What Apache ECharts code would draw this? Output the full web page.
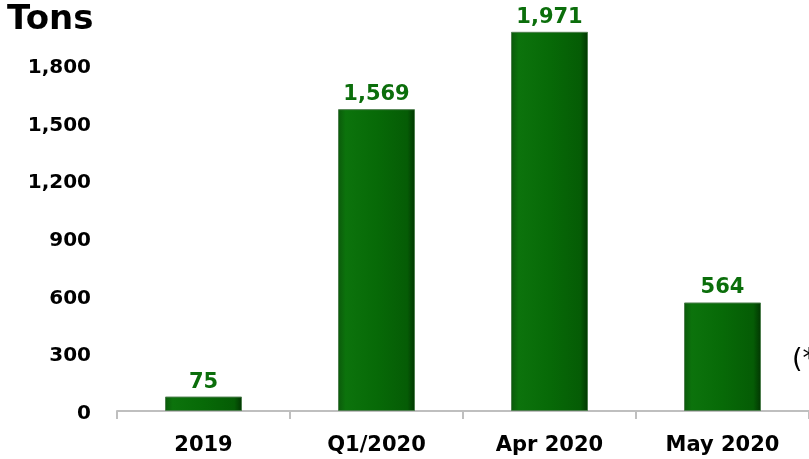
<!DOCTYPE html>
<html>
<head>
<meta charset="utf-8">
<script src="https://cdn.jsdelivr.net/npm/echarts@6/dist/echarts.min.js"></script>
<style>
  html, body { margin: 0; padding: 0; background: #fff; }
  #chart { width: 809px; height: 459px; }
</style>
</head>
<body>
<div id="chart"></div>
<script>
var categories = ['2019', 'Q1/2020', 'Apr 2020', 'May 2020'];
var tons = [75, 1569, 1971, 564];
var yTicks = [0, 300, 600, 900, 1200, 1500, 1800];

var chartDom = document.getElementById('chart');
var myChart = echarts.init(chartDom);
var option;

var barColor = new echarts.graphic.LinearGradient(0, 0, 1, 0, [
  { offset: 0, color: '#0b5a0b' },
  { offset: 0.1, color: '#0c730c' },
  { offset: 0.5, color: '#076a07' },
  { offset: 0.9, color: '#055c05' },
  { offset: 1, color: '#023602' }
]);

option = {
  animation: false,
  textStyle: { fontFamily: 'DejaVu Sans' },
  grid: {
    left: 117,
    right: -1,
    top: 7,
    bottom: 48
  },
  graphic: [
    {
      type: 'text',
      left: 7,
      top: 3,
      style: {
        text: 'Tons',
        font: 'bold 34px "DejaVu Sans"',
        fill: '#000'
      }
    },
    {
      type: 'text',
      left: 792,
      top: 346,
      style: {
        text: '(*',
        font: '27px "DejaVu Sans"',
        fill: '#000'
      }
    }
  ],
  xAxis: {
    type: 'category',
    data: categories,
    axisLine: { lineStyle: { color: '#bfbfbf', width: 2 } },
    axisTick: { show: true, length: 8, lineStyle: { color: '#bfbfbf', width: 2 } },
    axisLabel: {
      color: '#000',
      fontWeight: 'bold',
      fontSize: 21,
      margin: 24
    }
  },
  yAxis: {
    type: 'value',
    min: 0,
    max: 2100,
    interval: 300,
    splitLine: { show: false },
    axisLine: { show: false },
    axisTick: { show: false },
    axisLabel: {
      color: '#000',
      fontWeight: 'bold',
      fontSize: 20,
      margin: 26,
      verticalAlign: 'top',
      lineHeight: 6,
      formatter: function (v) {
        if (yTicks.indexOf(v) < 0) return '';
        return v.toLocaleString('en-US');
      }
    }
  },
  series: [
    {
      type: 'bar',
      data: tons,
      barWidth: 77,
      itemStyle: {
        color: barColor,
        borderColor: '#4f7f4f',
        borderWidth: 1
      },
      label: {
        show: true,
        position: 'top',
        distance: 4,
        color: '#0b6e0b',
        fontWeight: 'bold',
        fontSize: 21,
        formatter: function (p) { return p.value.toLocaleString('en-US'); }
      }
    }
  ]
};

option && myChart.setOption(option);
</script>
</body>
</html>
